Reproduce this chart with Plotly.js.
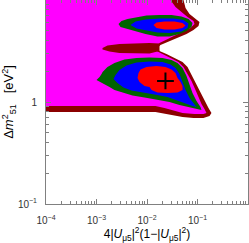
<!DOCTYPE html>
<html>
<head>
<meta charset="utf-8">
<script src="https://cdn.plot.ly/plotly-3.0.1.min.js"></script>
<style>html,body{margin:0;padding:0;background:#fff;}#chart{width:249px;height:243px;}</style>
</head>
<body>
<div id="chart"></div>
<script>
// Allowed-region boundaries: x = 4|U_mu5|^2(1-|U_mu5|^2), y = Δm²_51 [eV²]
const outerX = [0.0001, 0.0528, 0.0579, 0.0695, 0.0872, 0.1095, 0.1047, 0.0833, 0.0606, 0.0402, 0.0255, 0.0185, 0.0161, 0.0177, 0.0243, 0.0367, 0.0505, 0.0634, 0.0727, 0.0872, 0.1047, 0.1256, 0.144, 0.165, 0.189, 0.173, 0.131, 0.0833, 0.0505, 0.0306, 0.0203, 0.0147, 0.0001];
const outerY = [10, 10, 8.35, 7.29, 6.66, 6.09, 5.56, 5.08, 4.64, 4.24, 3.88, 3.62, 3.38, 3.16, 2.96, 2.70, 2.47, 2.20, 1.92, 1.64, 1.37, 1.145, 0.978, 0.873, 0.780, 0.729, 0.697, 0.697, 0.713, 0.746, 0.780, 0.798, 0.798];

const magX = [0.0001, 0.0292, 0.0367, 0.0482, 0.0634, 0.0833, 0.0872, 0.0727, 0.0505, 0.0335, 0.0233, 0.0177, 0.0147, 0.0154, 0.0203, 0.0306, 0.0421, 0.0528, 0.0634, 0.0761, 0.0913, 0.1047, 0.120, 0.1376, 0.1507, 0.1314, 0.0872, 0.0505, 0.032, 0.0222, 0.0147, 0.0001];
const magY = [10, 10, 8.54, 7.63, 6.81, 6.22, 5.82, 5.31, 4.86, 4.44, 4.05, 3.79, 3.46, 3.16, 2.96, 2.70, 2.47, 2.20, 1.88, 1.61, 1.31, 1.12, 0.956, 0.854, 0.780, 0.763, 0.763, 0.780, 0.835, 0.873, 0.914, 0.914];

const channelX = [0.001315, 0.00165, 0.00285, 0.00566, 0.0112, 0.0177, 0.0177, 0.0112, 0.00566, 0.00285, 0.00181, 0.001315];
const channelY = [3.38, 3.58, 3.70, 3.75, 3.79, 3.75, 3.16, 2.99, 2.99, 3.02, 3.13, 3.27];

const greenUpX = [0.00273, 0.00313, 0.00411, 0.0062, 0.00978, 0.0177, 0.0306, 0.0482, 0.0664, 0.0796, 0.0761, 0.0606, 0.044, 0.0279, 0.0161, 0.00934, 0.00566, 0.00375, 0.00299];
const greenUpY = [5.82, 6.22, 6.51, 6.81, 7.05, 7.13, 7.13, 6.89, 6.51, 5.95, 5.44, 4.97, 4.64, 4.39, 4.39, 4.64, 4.97, 5.20, 5.44];

const blueUpX = [0.00471, 0.00592, 0.00934, 0.0177, 0.0335, 0.0528, 0.0664, 0.0634, 0.0482, 0.0279, 0.0161, 0.00934, 0.0062];
const blueUpY = [5.69, 6.15, 6.44, 6.59, 6.59, 6.37, 5.88, 5.31, 4.91, 4.75, 4.80, 5.02, 5.25];

const redUpX = [0.01345, 0.0154, 0.0222, 0.035, 0.0505, 0.0579, 0.0505, 0.035, 0.0222, 0.0154];
const redUpY = [5.69, 6.02, 6.15, 6.15, 5.95, 5.62, 5.31, 5.14, 5.14, 5.31];

const greenLoX = [0.00132, 0.00165, 0.00227, 0.00358, 0.0062, 0.0112, 0.0203, 0.0306, 0.0402, 0.0505, 0.0606, 0.0695, 0.0796, 0.0956, 0.1146, 0.120, 0.0956, 0.0664, 0.044, 0.0279, 0.0161, 0.00893, 0.00516, 0.00313, 0.00227, 0.00181, 0.00144, 0.00115, 0.001, 0.00115, 0.00126];
const greenLoY = [1.97, 2.20, 2.41, 2.61, 2.70, 2.73, 2.70, 2.58, 2.41, 2.15, 1.80, 1.47, 1.225, 1.023, 0.893, 0.835, 0.854, 0.893, 0.935, 1.0, 1.058, 1.107, 1.158, 1.239, 1.311, 1.403, 1.502, 1.607, 1.643, 1.758, 1.882];

const blueLoX = [0.00238, 0.00285, 0.00393, 0.0062, 0.0112, 0.0203, 0.0292, 0.0367, 0.044, 0.0505, 0.0579, 0.0695, 0.0872, 0.0956, 0.0796, 0.0579, 0.0402, 0.0255, 0.0141, 0.00779, 0.00493, 0.00342, 0.0026, 0.00217];
const blueLoY = [1.839, 2.06, 2.28, 2.44, 2.495, 2.467, 2.33, 2.15, 1.88, 1.571, 1.311, 1.094, 0.956, 0.893, 0.914, 0.967, 1.034, 1.119, 1.184, 1.239, 1.296, 1.387, 1.536, 1.681];

const redLoX = [0.00679, 0.00744, 0.00978, 0.0154, 0.0233, 0.0306, 0.0367, 0.0402, 0.0461, 0.0505, 0.0505, 0.0402, 0.0255, 0.0161, 0.0123, 0.0112, 0.00893, 0.00711, 0.00649];
const redLoY = [1.924, 2.083, 2.203, 2.254, 2.203, 2.083, 1.924, 1.719, 1.571, 1.435, 1.311, 1.239, 1.225, 1.239, 1.311, 1.403, 1.435, 1.571, 1.719];

const bestFitX = [0.0232];
const bestFitY = [1.61];

const xTickVals = [1e-4, 1e-3, 1e-2, 1e-1];
const xTickText = ['10<sup>\u22124</sup>', '10<sup>\u22123</sup>', '10<sup>\u22122</sup>', '10<sup>\u22121</sup>'];
const yTickVals = [0.1, 1];
const yTickText = ['10<sup>\u22121</sup>', '1'];

function region(x, y, color) {
  return {x: x, y: y, type: 'scatter', mode: 'lines', fill: 'toself', fillcolor: color,
          line: {width: 0, color: color}, hoverinfo: 'skip', showlegend: false};
}

const traces = [
  region(outerX, outerY, '#8b0000'),
  region(magX, magY, '#ff00ff'),
  region(channelX, channelY, '#8b0000'),
  region(greenUpX, greenUpY, '#006400'),
  region(blueUpX, blueUpY, '#0000ff'),
  region(redUpX, redUpY, '#ff0000'),
  region(greenLoX, greenLoY, '#006400'),
  region(blueLoX, blueLoY, '#0000ff'),
  region(redLoX, redLoY, '#ff0000'),
  {x: bestFitX, y: bestFitY, type: 'scatter', mode: 'markers',
   marker: {symbol: 'cross-thin', size: 12, line: {width: 2, color: '#000'}, color: '#000'},
   hoverinfo: 'skip', showlegend: false}
];

function minorVals(lo, hi) {
  const v = [];
  for (let e = lo; e < hi; e++) for (let m = 2; m <= 9; m++) v.push(m * Math.pow(10, e));
  return v;
}

const axisCommon = {
  type: 'log', showgrid: false, zeroline: false, showline: true, linecolor: '#808080', linewidth: 1,
  mirror: 'ticks', ticks: 'inside', ticklen: 5, tickwidth: 1, tickcolor: '#808080',
  tickfont: {family: 'Liberation Sans, Arial, sans-serif', size: 10, color: '#333'}
};

const layout = {
  width: 249, height: 243,
  margin: {l: 46, r: 1, t: 0, b: 39, pad: 0},
  paper_bgcolor: '#fff', plot_bgcolor: '#fff',
  showlegend: false,
  xaxis: Object.assign({}, axisCommon, {
    range: [-4, 0], tickmode: 'array', tickvals: xTickVals, ticktext: xTickText,
    minor: {tickmode: 'array', tickvals: minorVals(-4, 0), ticks: 'inside', ticklen: 3, tickcolor: '#808080', showgrid: false},
    ticklabelstandoff: 7,
    title: {text: '4|<i>U</i><sub>\u03bc5</sub>|<sup>2</sup>(1\u2212|<i>U</i><sub>\u03bc5</sub>|<sup>2</sup>)',
            font: {family: 'Liberation Sans, Arial, sans-serif', size: 12, color: '#000'}, standoff: 3}
  }),
  yaxis: Object.assign({}, axisCommon, {
    range: [-1, 1], tickmode: 'array', tickvals: yTickVals, ticktext: yTickText,
    minor: {tickmode: 'array', tickvals: minorVals(-1, 1), ticks: 'inside', ticklen: 3, tickcolor: '#808080', showgrid: false},
    ticklabelstandoff: 6,
    title: {text: '\u0394<i>m</i><sup>2</sup><sub>51</sub>   [eV<sup>2</sup>]',
            font: {family: 'Liberation Sans, Arial, sans-serif', size: 13, color: '#000'}, standoff: 4}
  })
};

Plotly.newPlot('chart', traces, layout, {displayModeBar: false, staticPlot: true});
</script>
</body>
</html>
